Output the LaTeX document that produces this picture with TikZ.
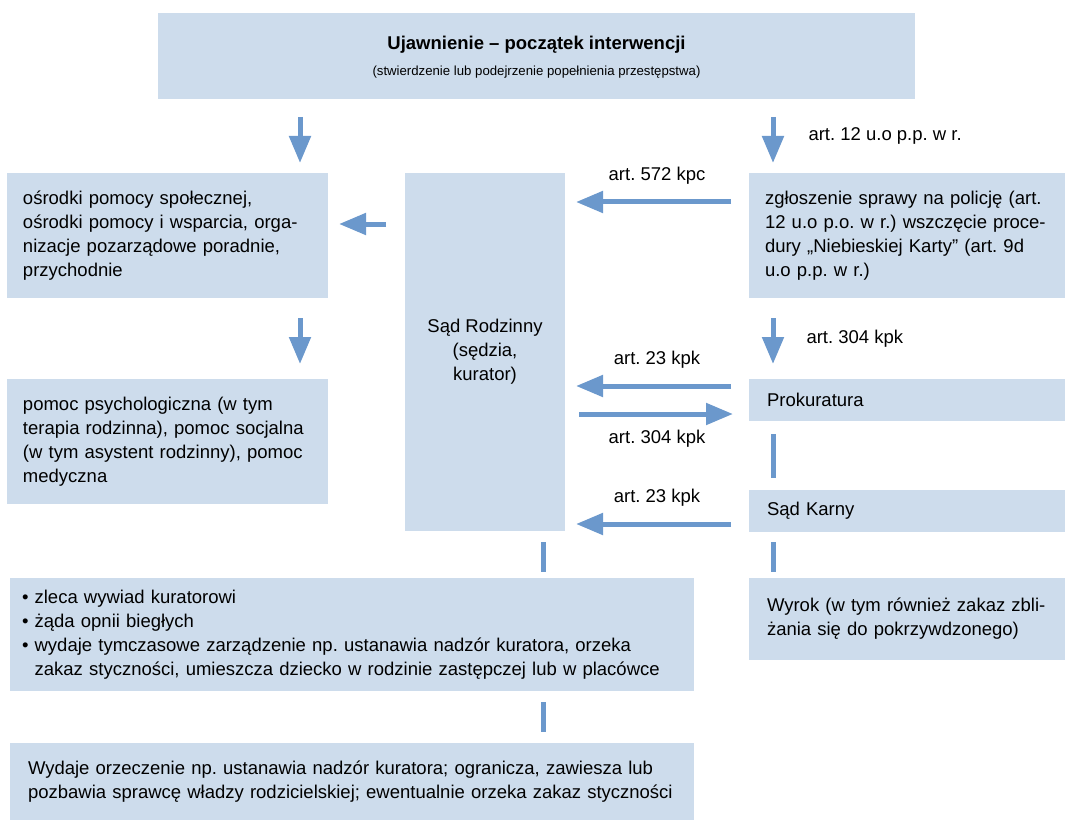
\documentclass[tikz,border=0pt]{standalone}
\usepackage{fontspec}
\setmainfont{Liberation Sans}
\usetikzlibrary{arrows.meta}
\frenchspacing
\definecolor{boxblue}{RGB}{205,220,236}
\definecolor{arrowblue}{RGB}{107,152,204}
\newcommand\fs{\fontsize{18.5}{24}\selectfont\frenchspacing}
\tikzset{
  panel/.style={fill=boxblue, draw=none, inner sep=0pt, outer sep=0pt, font=\fs, text=black},
  lbl/.style={inner sep=0pt, font=\fs, text=black},
  arr/.style={draw=arrowblue, line width=5pt, -{Triangle[length=27pt,width=21pt]}},
  link/.style={draw=arrowblue, line width=5pt}
}
\begin{document}
\begin{tikzpicture}[x=1pt, y=-1pt]
\useasboundingbox (0,0) rectangle (1065,821);
\coordinate (cL) at (300,0);
\coordinate (cR) at (773,0);
\coordinate (cM) at (543,0);

% boxes
\node[panel, minimum width=757pt, minimum height=86pt] (top) at (536.5,56) {};
\node[lbl, font=\fs\bfseries] (title) at (536.5,45) {Ujawnienie – początek interwencji};
\node[lbl, font=\fontsize{13.2}{16}\selectfont] (sub) at (536.5,72) {(stwierdzenie lub podejrzenie popełnienia przestępstwa)};

\node[panel, minimum width=321pt, minimum height=125pt, text width=289pt, align=left] (lb1) at (167.5,235.5)
  {\mbox{ośrodki pomocy społecznej,}\\\mbox{ośrodki pomocy i wsparcia, orga-}\\\mbox{nizacje pozarządowe poradnie,}\\\mbox{przychodnie}};
\node[panel, minimum width=321pt, minimum height=125pt, text width=289pt, align=left] (lb2) at (167.5,441.5)
  {\mbox{pomoc psychologiczna (w tym}\\\mbox{terapia rodzinna), pomoc socjalna}\\\mbox{(w tym asystent rodzinny), pomoc}\\\mbox{medyczna}};
\node[panel, minimum width=160pt, minimum height=358pt, align=center] (sr) at (485,352)
  {Sąd Rodzinny\\(sędzia,\\kurator)};
\node[panel, minimum width=316pt, minimum height=125pt, text width=284pt, align=left] (rb1) at (907,235.5)
  {\mbox{zgłoszenie sprawy na policję (art.}\\\mbox{12 u.o p.o. w r.) wszczęcie proce-}\\\mbox{dury „Niebieskiej Karty” (art. 9d}\\\mbox{u.o p.p. w r.)}};
\node[panel, minimum width=316pt, minimum height=42pt, text width=280pt, align=left] (pr) at (907,400) {Prokuratura};
\node[panel, minimum width=316pt, minimum height=42pt, text width=280pt, align=left] (sk) at (907,511) {Sąd Karny};
\node[panel, minimum width=316pt, minimum height=82pt, text width=280pt, align=left] (wy) at (907,619)
  {\mbox{Wyrok (w tym również zakaz zbli-}\\\mbox{żania się do pokrzywdzonego)}};
\node[panel, minimum width=684pt, minimum height=113pt, text width=660pt, align=left] (bl) at (352,634.5)
  {\mbox{• zleca wywiad kuratorowi}\\\mbox{• żąda opnii biegłych}\\\mbox{• wydaje tymczasowe zarządzenie np. ustanawia nadzór kuratora, orzeka}\\\mbox{\phantom{• }zakaz styczności, umieszcza dziecko w rodzinie zastępczej lub w placówce}};
\node[panel, minimum width=684pt, minimum height=77pt, text width=648pt, align=left] (bt) at (352,781.5)
  {\mbox{Wydaje orzeczenie np. ustanawia nadzór kuratora; ogranicza, zawiesza lub}\\\mbox{pozbawia sprawcę władzy rodzicielskiej; ewentualnie orzeka zakaz styczności}};

% vertical arrows
\draw[arr, shorten <=18pt, shorten >=10pt] (top.south -| cL) -- (lb1.north -| cL);
\draw[arr, shorten <=18pt, shorten >=10pt] (top.south -| cR) -- node[lbl, anchor=west, xshift=33pt] (l12) {art. 12 u.o p.p. w r.} (rb1.north -| cR);
\draw[arr, shorten <=20pt, shorten >=15pt] (lb1.south -| cL) -- (lb2.north -| cL);
\draw[arr, shorten <=20pt, shorten >=15pt] (rb1.south -| cR) -- node[lbl, anchor=west, xshift=31pt] (l304a) {art. 304 kpk} (pr.north -| cR);

% vertical links
\draw[link, shorten <=13pt, shorten >=12pt] (pr.south -| cR) -- (sk.north -| cR);
\draw[link, shorten <=11pt, shorten >=6pt] (sr.south -| cM) -- (bl.north -| cM);
\draw[link, shorten <=10pt, shorten >=6pt] (sk.south -| cR) -- (wy.north -| cR);
\draw[link, shorten <=11pt, shorten >=11pt] (bl.south -| cM) -- (bt.north -| cM);

% horizontal arrows
\draw[arr, shorten <=18pt, shorten >=11pt] ([yshift=33.5pt]rb1.west) -- node[lbl, yshift=26pt] (l572) {art. 572 kpc} ([yshift=33.5pt]rb1.west -| sr.east);
\draw[arr, shorten <=19pt, shorten >=11pt] ([yshift=11.5pt]lb1.east -| sr.west) -- ([yshift=11.5pt]lb1.east);
\draw[arr, shorten <=18pt, shorten >=11pt] ([yshift=14pt]pr.west) -- node[lbl, yshift=26pt] (l23a) {art. 23 kpk} ([yshift=14pt]pr.west -| sr.east);
\draw[arr, shorten <=14pt, shorten >=16pt] ([yshift=-14pt]pr.west -| sr.east) -- node[lbl, yshift=-25pt] (l304b) {art. 304 kpk} ([yshift=-14pt]pr.west);
\draw[arr, shorten <=18pt, shorten >=11pt] ([yshift=-13pt]sk.west) -- node[lbl, yshift=26pt] (l23b) {art. 23 kpk} ([yshift=-13pt]sk.west -| sr.east);
\end{tikzpicture}
\end{document}
